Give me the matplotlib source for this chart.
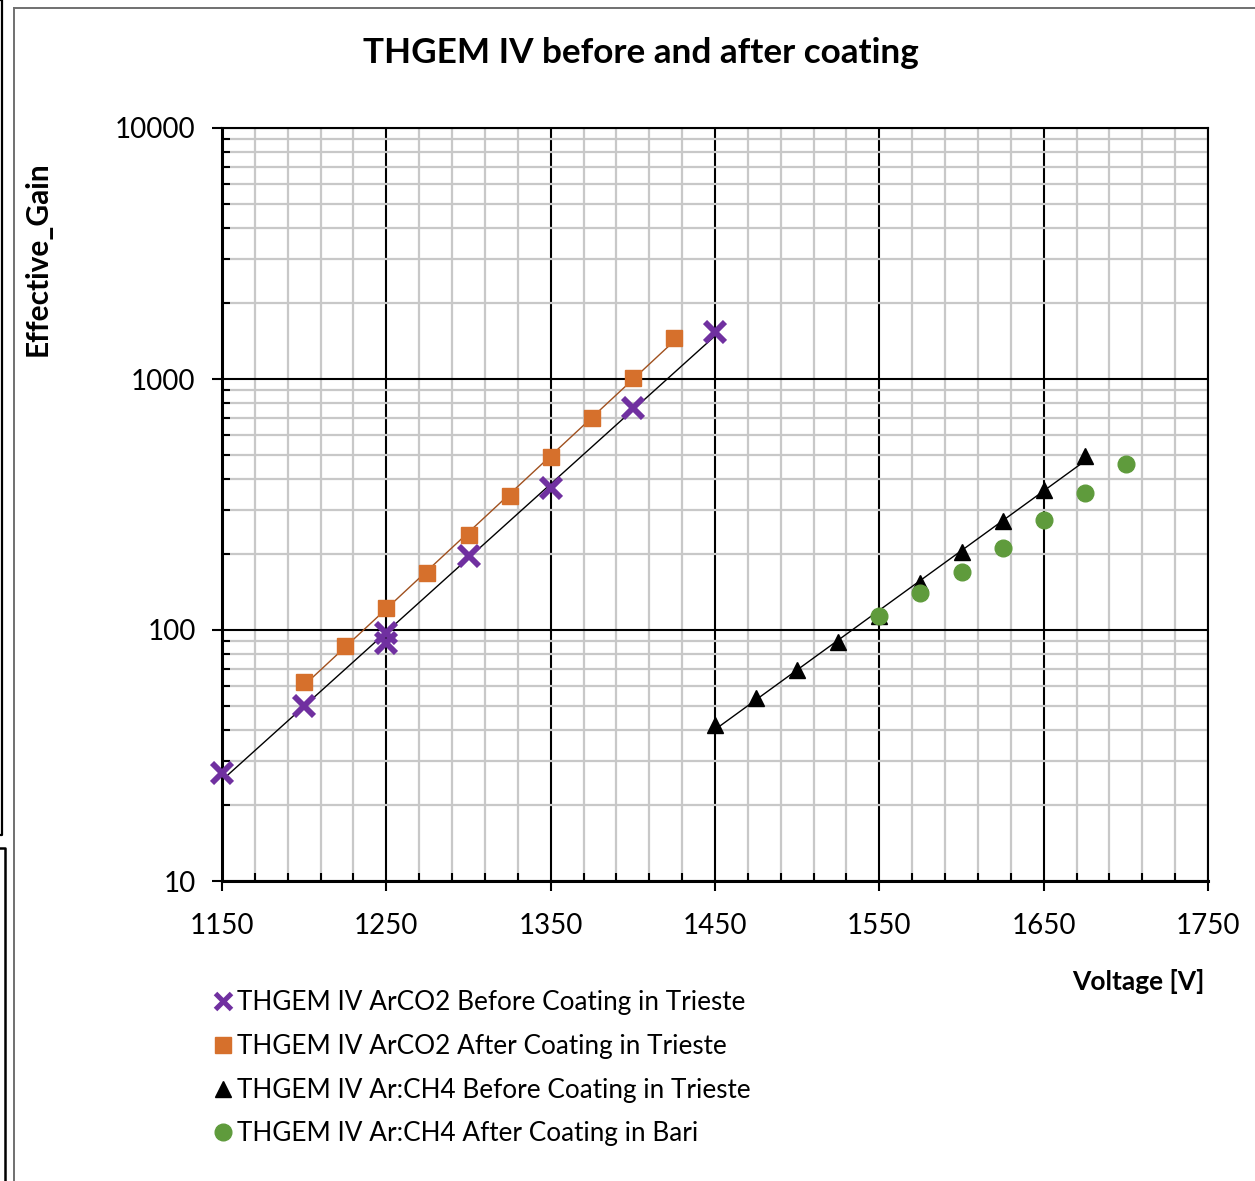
import numpy as np
import matplotlib
matplotlib.use("Agg")
import matplotlib.pyplot as plt
from matplotlib.lines import Line2D
from matplotlib.ticker import FixedLocator, LogLocator, NullFormatter

plt.rcParams['font.family'] = ['Lato', 'DejaVu Sans']

# ArCO2, before coating (Trieste)
v_arco2_before = [1150, 1200, 1250, 1250, 1300, 1350, 1400, 1450]
g_arco2_before = [27, 50, 97, 89, 197, 367, 764, 1545]

# ArCO2, after coating (Trieste)
v_arco2_after = [1200, 1225, 1250, 1275, 1300, 1325, 1350, 1375, 1400, 1425]
g_arco2_after = [62, 86, 122, 169, 240, 342, 488, 697, 1006, 1453]

# Ar:CH4, before coating (Trieste)
v_arch4_before = [1450, 1475, 1500, 1525, 1550, 1575, 1600, 1625, 1650, 1675]
g_arch4_before = [41.7, 53.6, 69.5, 89.6, 114, 154, 204, 271, 362, 492]

# Ar:CH4, after coating (Bari)
v_arch4_after = [1550, 1575, 1600, 1625, 1650, 1675, 1700]
g_arch4_after = [114, 140, 170, 212, 274, 350, 457]

labels = [
    "THGEM IV ArCO2 Before Coating in Trieste",
    "THGEM IV ArCO2 After Coating in Trieste",
    "THGEM IV Ar:CH4 Before Coating in Trieste",
    "THGEM IV Ar:CH4 After Coating in Bari",
]

x_major = [1150, 1250, 1350, 1450, 1550, 1650, 1750]
x_minor = [v for v in range(1150, 1751, 20) if (v - 1150) % 100 != 0]

PURPLE = "#7030A0"
ORANGE = "#D6702C"
GREEN = "#5F9B3C"

W, H = 1255, 1181
fig = plt.figure(figsize=(W / 100, H / 100), dpi=100)
ax = fig.add_axes([222 / W, 1 - 881 / H, (1208 - 222) / W, (881 - 128) / H])

ax.set_xscale("linear")
ax.set_yscale("log")
ax.set_xlim(1150, 1750)
ax.set_ylim(10, 10000)


def exp_trend(x, y, color):
    """Exponential trendline drawn across the range of the series."""
    x = np.asarray(x, float)
    k, b = np.polyfit(x, np.log(np.asarray(y, float)), 1)
    xs = np.array([x.min(), x.max()])
    ax.plot(xs, np.exp(b + k * xs), color=color, lw=1.0, zorder=3)


exp_trend(v_arco2_before, g_arco2_before, "black")
exp_trend(v_arco2_after, g_arco2_after, "#A0501E")
exp_trend(v_arch4_before, g_arch4_before, "black")

ax.plot(v_arco2_before, g_arco2_before, ls="none", marker="x", ms=15,
        mew=4.2, color=PURPLE, zorder=4, clip_on=False)
ax.plot(v_arco2_after, g_arco2_after, ls="none", marker="s", ms=11.5,
        color=ORANGE, mec=ORANGE, zorder=4, clip_on=False)
ax.plot(v_arch4_before, g_arch4_before, ls="none", marker="^", ms=11.5,
        color="black", zorder=4, clip_on=False)
ax.plot(v_arch4_after, g_arch4_after, ls="none", marker="o", ms=12,
        color=GREEN, mec=GREEN, zorder=5, clip_on=False)

# ticks and grid
ax.xaxis.set_major_locator(FixedLocator(x_major))
ax.xaxis.set_minor_locator(FixedLocator(x_minor))
ax.yaxis.set_major_locator(LogLocator(base=10))
ax.yaxis.set_minor_locator(LogLocator(base=10, subs=np.arange(2, 10)))
ax.yaxis.set_minor_formatter(NullFormatter())
ax.set_yticks([10, 100, 1000, 10000])
ax.set_yticklabels(["10", "100", "1000", "10000"])

ax.grid(which="major", color="black", lw=1.5, zorder=1)
ax.grid(which="minor", color="#C8C8C8", lw=1.6, zorder=0)
ax.set_axisbelow(True)

ax.tick_params(which="major", direction="out", length=7, width=1.5,
               labelsize=20, colors="black", pad=12)
ax.tick_params(axis="x", which="major", pad=16)
ax.tick_params(which="minor", direction="in", length=6, width=1.5,
               colors="black")
ax.tick_params(axis="y", which="minor", left=True)

for side in ("left", "bottom"):
    ax.spines[side].set_linewidth(2.2)
for side in ("top", "right"):
    ax.spines[side].set_linewidth(1.5)

# titles
fig.text(641 / W, 1 - 53 / H, "THGEM IV before and after coating",
         ha="center", va="center", fontsize=25.3, fontweight="bold")
fig.text(38 / W, 1 - 259 / H, "Effective_Gain", rotation=90,
         ha="center", va="center", fontsize=21.5, fontweight="bold")
fig.text(1205 / W, 1 - 982 / H, "Voltage [V]", ha="right", va="center",
         fontsize=19, fontweight="bold")

# legend keys
handles = [
    Line2D([], [], ls="none", marker="x", ms=11, mew=3.6, color=PURPLE),
    Line2D([], [], ls="none", marker="s", ms=11.5, color=ORANGE, mec=ORANGE),
    Line2D([], [], ls="none", marker="^", ms=11, color="black"),
    Line2D([], [], ls="none", marker="o", ms=12, color=GREEN, mec=GREEN),
]
leg = fig.legend(handles=handles, labels=labels, loc="upper left",
                 bbox_to_anchor=(199 / W, 1 - 977 / H), frameon=False,
                 fontsize=18.8, handlelength=0.85, handletextpad=0.12,
                 labelspacing=0.72, borderpad=0)

# chart-area border and neighbouring page frames
border = "#707070"
fig.add_artist(Line2D([14 / W, 14 / W], [0, 1 - 8 / H], color=border,
                      lw=1.4, transform=fig.transFigure))
fig.add_artist(Line2D([14 / W, 1], [1 - 8 / H, 1 - 8 / H], color=border,
                      lw=1.4, transform=fig.transFigure))
fig.add_artist(Line2D([0, 2 / W, 2 / W, 0], [1, 1, 1 - 835 / H, 1 - 835 / H],
                      color="black", lw=1.6, transform=fig.transFigure))
fig.add_artist(Line2D([0, 5 / W, 5 / W], [1 - 848 / H, 1 - 848 / H, 0],
                      color="black", lw=1.8, transform=fig.transFigure))

fig.savefig("out.png", dpi=100)
